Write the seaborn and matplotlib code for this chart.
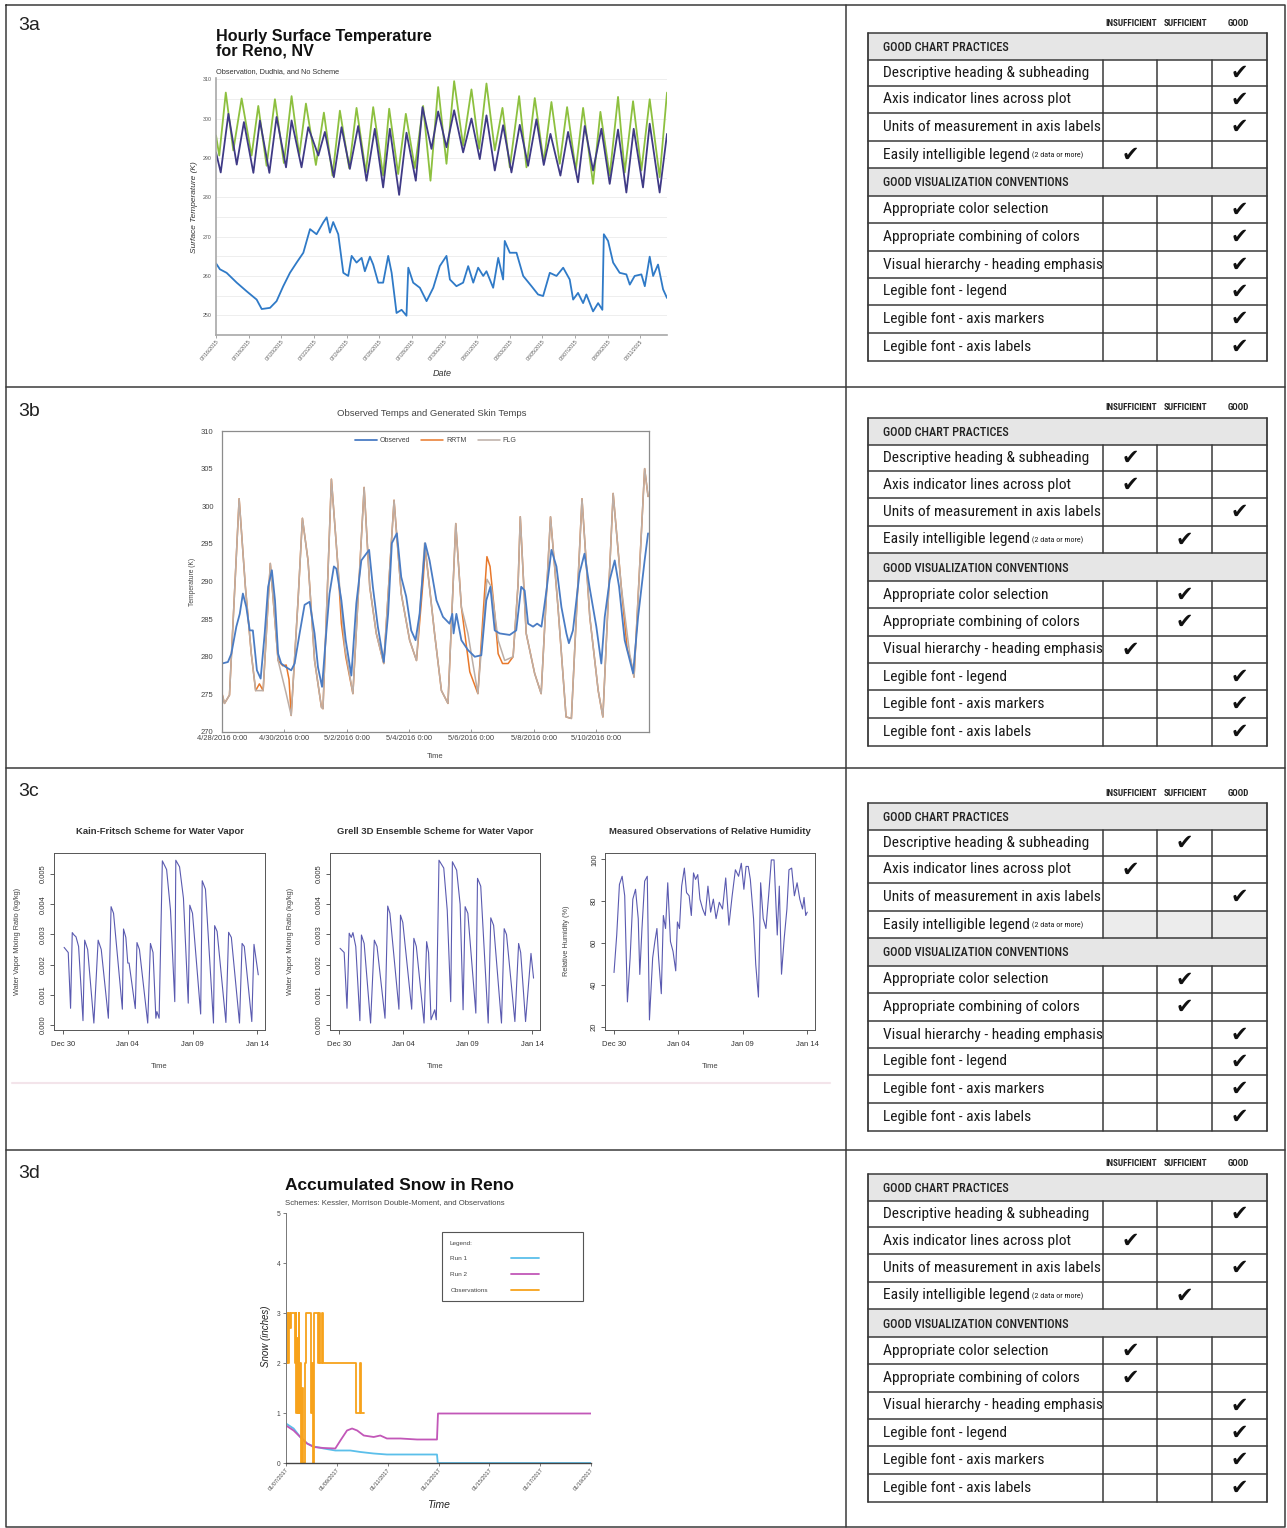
"""
Chart critique sheet: four weather charts (3a-3d), each next to its rubric table.
"""

import numpy as np
import pandas as pd
import matplotlib
matplotlib.use("Agg")
import matplotlib.pyplot as plt
from matplotlib import font_manager
from matplotlib.patches import Rectangle
from matplotlib.legend_handler import HandlerLine2D
import seaborn as sns

W, H = 1287, 1528

# ---------------------------------------------------------------- 3a data
# (days after 07/16/2015 00:00, surface temperature K)
a_green = [(0.0, 295.7), (0.2, 290.6), (0.6, 306.6), (1.06, 291.9), (1.57, 305.1),
           (2.18, 290.6), (2.59, 303.2), (3.1, 288.0), (3.61, 304.9), (4.16, 288.7),
           (4.63, 305.7), (5.1, 290.6), (5.51, 303.8), (6.12, 288.2), (6.61, 301.5),
           (7.14, 285.5), (7.59, 302.0), (8.16, 287.4), (8.61, 302.7), (9.18, 286.3),
           (9.63, 302.9), (10.24, 285.5), (10.61, 302.5), (11.16, 285.9), (11.63, 301.2),
           (12.18, 287.4), (12.69, 303.2), (13.14, 284.2), (13.61, 308.0), (14.12, 288.5),
           (14.59, 309.5), (15.14, 293.1), (15.65, 307.4), (16.12, 292.3), (16.57, 308.9),
           (17.08, 291.9), (17.55, 302.7), (18.0, 287.6), (18.57, 305.7), (19.02, 287.6),
           (19.53, 305.2), (20.08, 288.9), (20.55, 304.2), (21.06, 288.5), (21.51, 302.9),
           (22.04, 286.8), (22.49, 302.7), (23.1, 283.4), (23.55, 301.7), (24.12, 285.5),
           (24.63, 305.5), (25.04, 286.3), (25.55, 304.4), (26.06, 286.8), (26.57, 304.9),
           (27.18, 285.1), (27.63, 306.6)]
a_purple = [(0.0, 291.4), (0.29, 286.3), (0.76, 301.2), (1.27, 288.3), (1.71, 299.1),
            (2.29, 286.2), (2.69, 299.5), (3.27, 286.2), (3.71, 300.4), (4.29, 287.6),
            (4.63, 299.5), (5.24, 287.6), (5.65, 297.8), (6.27, 290.6), (6.67, 296.6),
            (7.22, 285.1), (7.69, 297.8), (8.2, 287.2), (8.71, 298.1), (9.22, 284.2),
            (9.73, 297.4), (10.24, 282.5), (10.65, 297.4), (11.22, 280.6), (11.67, 296.4),
            (12.24, 284.2), (12.65, 302.9), (13.2, 292.3), (13.61, 301.8), (14.12, 292.7),
            (14.59, 302.1), (15.14, 291.4), (15.65, 300.0), (16.16, 289.7), (16.57, 300.8),
            (17.08, 286.8), (17.59, 298.3), (18.1, 286.3), (18.61, 298.4), (19.12, 288.0),
            (19.63, 299.8), (20.08, 288.2), (20.49, 296.1), (21.1, 285.5), (21.57, 296.6),
            (22.18, 283.8), (22.59, 298.1), (23.1, 286.8), (23.61, 297.4), (24.12, 283.4),
            (24.63, 297.2), (25.14, 281.2), (25.59, 297.4), (26.16, 282.5), (26.57, 298.7),
            (27.18, 281.2), (27.63, 296.1)]
a_blue = [(0.0, 263.2), (0.24, 261.7), (0.65, 260.8), (1.27, 258.3), (1.88, 256.1),
          (2.49, 254.0), (2.8, 251.6), (3.31, 251.9), (3.71, 253.6), (4.12, 257.4),
          (4.53, 260.8), (4.94, 263.4), (5.35, 265.9), (5.76, 271.9), (6.16, 270.6),
          (6.57, 273.6), (6.78, 274.9), (6.98, 271.0), (7.18, 273.7), (7.49, 270.6),
          (7.8, 260.8), (8.1, 260.0), (8.31, 265.1), (8.61, 263.4), (8.92, 264.6),
          (9.12, 261.2), (9.43, 264.9), (9.63, 262.9), (9.94, 258.3), (10.24, 258.3),
          (10.55, 265.1), (10.76, 260.8), (11.06, 250.6), (11.37, 251.4), (11.67, 249.9),
          (11.78, 262.1), (12.08, 258.3), (12.49, 257.0), (12.9, 253.6), (13.31, 257.0),
          (13.71, 262.5), (14.12, 265.1), (14.33, 259.1), (14.73, 257.4), (15.14, 258.3),
          (15.45, 262.5), (15.76, 258.3), (16.06, 262.1), (16.37, 260.0), (16.57, 261.2),
          (16.98, 257.0), (17.29, 264.6), (17.59, 259.1), (17.69, 268.9), (18.0, 265.9),
          (18.41, 265.9), (18.82, 260.0), (19.33, 257.4), (19.73, 255.3), (20.04, 254.9),
          (20.45, 260.8), (20.86, 260.0), (21.27, 262.1), (21.67, 259.1), (21.88, 254.0),
          (22.18, 255.7), (22.49, 253.1), (22.69, 255.3), (23.1, 251.0), (23.41, 253.1),
          (23.67, 251.4), (23.76, 270.6), (24.02, 268.9), (24.33, 263.4), (24.73, 260.8),
          (25.14, 260.4), (25.35, 257.8), (25.65, 260.0), (26.06, 260.4), (26.27, 257.4),
          (26.57, 264.9), (26.78, 260.0), (27.08, 262.9), (27.39, 256.6), (27.63, 254.4)]
a_ticks = [0, 2, 4, 6, 8, 10, 12, 14, 16, 18, 20, 22, 24, 26]
a_tick_labels = ["07/16/2015", "07/18/2015", "07/20/2015", "07/22/2015", "07/24/2015",
                 "07/26/2015", "07/28/2015", "07/30/2015", "08/01/2015", "08/03/2015",
                 "08/05/2015", "08/07/2015", "08/09/2015", "08/11/2015"]

# ---------------------------------------------------------------- 3b data
# (days after 4/28/2016 0:00, temperature K)
b_observed = [(0.0, 279.1), (0.19, 279.3), (0.3, 280.4), (0.46, 284.0), (0.57, 285.7),
              (0.67, 288.4), (0.78, 286.6), (0.89, 283.5), (0.99, 283.5), (1.12, 278.2),
              (1.24, 277.1), (1.37, 283.1), (1.48, 289.3), (1.6, 291.5), (1.7, 287.5),
              (1.8, 280.4), (1.9, 279.1), (2.06, 278.6), (2.22, 278.2), (2.33, 279.1),
              (2.49, 283.1), (2.65, 286.9), (2.81, 287.3), (2.97, 283.1), (3.08, 278.6),
              (3.21, 276.0), (3.35, 283.5), (3.45, 288.4), (3.59, 292.0), (3.67, 291.7),
              (3.83, 287.5), (3.97, 282.2), (4.15, 277.5), (4.31, 287.1), (4.47, 292.8),
              (4.63, 293.7), (4.72, 294.2), (4.84, 289.3), (5.0, 284.0), (5.19, 279.3),
              (5.33, 285.7), (5.45, 295.1), (5.61, 296.4), (5.75, 290.6), (5.91, 288.0),
              (6.07, 283.5), (6.21, 282.2), (6.34, 285.7), (6.52, 295.1), (6.66, 292.8),
              (6.88, 287.5), (7.09, 285.3), (7.3, 284.4), (7.39, 285.7), (7.43, 283.1),
              (7.52, 285.7), (7.68, 282.2), (7.89, 280.9), (8.11, 280.0), (8.32, 280.2),
              (8.48, 287.5), (8.61, 289.3), (8.75, 283.5), (8.91, 283.1), (9.23, 282.9),
              (9.44, 283.5), (9.6, 289.3), (9.71, 288.8), (9.82, 284.4), (9.98, 284.0),
              (10.11, 284.4), (10.25, 284.0), (10.41, 288.8), (10.57, 294.2), (10.73, 292.0),
              (10.89, 286.6), (11.05, 283.1), (11.13, 281.8), (11.26, 283.5), (11.47, 291.1),
              (11.63, 293.7), (11.79, 289.3), (12.01, 284.0), (12.17, 279.1), (12.28, 285.3),
              (12.44, 290.2), (12.6, 292.8), (12.74, 289.3), (12.92, 282.2), (13.19, 277.8),
              (13.35, 285.3), (13.56, 292.8), (13.67, 296.4)]
b_rrtm = [(0.0, 275.1), (0.08, 273.8), (0.24, 274.9), (0.55, 301.0), (0.75, 289.3),
          (0.94, 280.4), (1.08, 275.5), (1.2, 276.4), (1.32, 275.5), (1.55, 292.4),
          (1.8, 279.5), (1.95, 278.8), (2.06, 278.9), (2.15, 277.0), (2.22, 272.2),
          (2.44, 287.5), (2.58, 298.4), (2.76, 292.8), (2.97, 279.5), (3.19, 273.3),
          (3.24, 273.1), (3.51, 303.6), (3.72, 292.0), (3.83, 284.4), (3.97, 280.0),
          (4.2, 275.1), (4.56, 302.5), (4.74, 289.3), (4.95, 283.1), (5.19, 279.1),
          (5.52, 300.8), (5.75, 288.4), (6.02, 282.2), (6.24, 279.5), (6.46, 290.5),
          (6.52, 294.5), (6.82, 283.1), (7.04, 275.5), (7.25, 273.8), (7.5, 297.7),
          (7.68, 286.6), (7.95, 278.0), (8.21, 275.1), (8.5, 293.3), (8.6, 292.0),
          (8.75, 285.7), (8.86, 280.4), (9.0, 279.1), (9.18, 279.1), (9.34, 280.0),
          (9.5, 289.7), (9.57, 298.6), (9.76, 283.1), (10.03, 277.8), (10.24, 275.1),
          (10.54, 298.6), (10.78, 286.6), (11.04, 272.0), (11.21, 271.8), (11.55, 301.0),
          (11.8, 285.3), (12.07, 275.5), (12.22, 272.0), (12.55, 301.7), (12.81, 289.3),
          (13.0, 281.0), (13.1, 279.8), (13.22, 277.3), (13.56, 305.0), (13.67, 301.3)]
b_flg = [(0.0, 275.1), (0.08, 273.8), (0.24, 274.9), (0.55, 301.0), (0.75, 289.3),
         (0.94, 280.4), (1.08, 275.5), (1.32, 275.5), (1.55, 292.4), (1.8, 279.5),
         (2.06, 275.1), (2.22, 272.2), (2.44, 287.5), (2.58, 298.4), (2.76, 292.8),
         (2.97, 279.5), (3.19, 273.3), (3.24, 273.1), (3.51, 303.6), (3.72, 292.0),
         (3.94, 281.3), (4.2, 275.1), (4.56, 302.5), (4.74, 289.3), (4.95, 283.1),
         (5.19, 279.1), (5.52, 300.8), (5.75, 288.4), (6.02, 282.2), (6.24, 279.5),
         (6.5, 295.1), (6.82, 283.1), (7.04, 275.5), (7.25, 273.8), (7.5, 297.7),
         (7.68, 286.6), (7.89, 283.1), (8.21, 275.1), (8.5, 290.3), (8.64, 289.3),
         (8.86, 282.2), (9.07, 279.5), (9.34, 280.0), (9.5, 289.7), (9.57, 298.6),
         (9.76, 283.1), (10.03, 277.8), (10.24, 275.1), (10.54, 298.6), (10.78, 286.6),
         (11.04, 272.0), (11.21, 271.8), (11.55, 301.0), (11.8, 285.3), (12.07, 275.5),
         (12.22, 272.0), (12.55, 301.7), (12.81, 289.3), (13.08, 280.4), (13.22, 277.3),
         (13.56, 305.0), (13.67, 301.3)]
b_ticks = [0, 2, 4, 6, 8, 10, 12]
b_tick_labels = ["4/28/2016 0:00", "4/30/2016 0:00", "5/2/2016 0:00", "5/4/2016 0:00",
                 "5/6/2016 0:00", "5/8/2016 0:00", "5/10/2016 0:00"]

# ---------------------------------------------------------------- 3c data
# (days after Dec 30, value)
c_kain_fritsch = [(0.08, 0.00257), (0.4, 0.0024), (0.58, 0.00055), (0.71, 0.00306),
                  (0.85, 0.00298), (1.0, 0.00292), (1.2, 0.0026), (1.54, 0.00014),
                  (1.67, 0.00281), (1.9, 0.0025), (2.38, 0.00006), (2.71, 0.00281),
                  (2.95, 0.0025), (3.5, 0.00022), (3.71, 0.00392), (3.9, 0.0037),
                  (4.58, 0.00052), (4.67, 0.00318), (4.85, 0.0029), (5.0, 0.00205),
                  (5.1, 0.00205), (5.58, 0.00054), (5.71, 0.00273), (5.9, 0.0025),
                  (6.54, 0.00006), (6.75, 0.0027), (6.95, 0.0024), (7.17, 0.00022),
                  (7.25, 0.00044), (7.42, 0.00022), (7.67, 0.00544), (8.0, 0.00515),
                  (8.3, 0.0038), (8.63, 0.00077), (8.71, 0.00546), (9.0, 0.00524),
                  (9.3, 0.0042), (9.67, 0.00072), (9.79, 0.00397), (10.0, 0.0037),
                  (10.63, 0.00036), (10.75, 0.00478), (11.0, 0.0045), (11.62, 0.00006),
                  (11.71, 0.00329), (11.9, 0.0031), (12.58, 0.00008), (12.79, 0.00307),
                  (13.0, 0.0029), (13.63, 0.00006), (13.83, 0.0027), (14.0, 0.0026),
                  (14.58, 0.00011), (14.75, 0.00267), (15.08, 0.00166)]
c_grell = [(0.08, 0.00254), (0.4, 0.0024), (0.62, 0.00055), (0.79, 0.00304),
           (0.95, 0.0029), (1.08, 0.00306), (1.3, 0.0026), (1.62, 0.00014),
           (1.74, 0.00298), (1.95, 0.0027), (2.45, 0.00006), (2.74, 0.00281),
           (2.95, 0.0026), (3.57, 0.00022), (3.78, 0.00394), (3.95, 0.0037),
           (4.65, 0.00052), (4.77, 0.00364), (4.95, 0.0034), (5.64, 0.00052),
           (5.81, 0.00287), (6.0, 0.0026), (6.6, 0.00006), (6.8, 0.00276),
           (6.95, 0.0024), (7.14, 0.00017), (7.43, 0.0005), (7.55, 0.00017),
           (7.76, 0.00546), (8.13, 0.0052), (8.4, 0.0038), (8.67, 0.00077),
           (8.8, 0.00541), (9.13, 0.00513), (9.4, 0.004), (9.63, 0.0005),
           (9.79, 0.00392), (10.0, 0.0037), (10.62, 0.00039), (10.75, 0.00486),
           (11.0, 0.0046), (11.58, 0.00006), (11.78, 0.00355), (12.0, 0.0033),
           (12.61, 0.00006), (12.82, 0.00319), (13.0, 0.003), (13.65, 0.00011),
           (13.94, 0.0027), (14.1, 0.0024), (14.48, 0.00011), (14.9, 0.00237),
           (15.1, 0.00155)]
c_humidity = [(0.0, 46.0), (0.21, 63.9), (0.42, 88.0), (0.63, 91.9), (0.83, 82.6),
              (1.04, 32.0), (1.25, 53.0), (1.46, 81.0), (1.67, 85.7), (1.88, 71.7),
              (2.0, 45.1), (2.17, 67.0), (2.38, 89.6), (2.58, 91.9), (2.75, 23.4),
              (3.0, 53.0), (3.17, 60.8), (3.33, 67.0), (3.46, 53.0), (3.67, 35.9),
              (3.83, 73.2), (4.0, 67.0), (4.17, 88.8), (4.38, 60.8), (4.58, 56.1),
              (4.79, 46.8), (4.92, 70.1), (5.08, 67.0), (5.25, 87.2), (5.46, 95.8),
              (5.63, 84.1), (5.83, 82.6), (6.0, 73.2), (6.17, 93.5), (6.33, 90.4),
              (6.5, 92.7), (6.67, 81.0), (6.88, 76.3), (7.08, 73.2), (7.29, 87.2),
              (7.5, 74.8), (7.71, 81.0), (7.92, 71.7), (8.17, 79.5), (8.42, 76.3),
              (8.67, 91.1), (8.92, 68.6), (9.17, 82.6), (9.42, 95.0), (9.67, 91.9),
              (9.88, 98.1), (10.08, 85.7), (10.25, 96.6), (10.42, 96.6), (10.58, 90.4),
              (10.83, 71.7), (11.0, 49.9), (11.21, 34.3), (11.38, 88.8), (11.58, 71.7),
              (11.79, 67.0), (12.0, 82.6), (12.21, 99.7), (12.42, 99.7), (12.67, 63.9),
              (12.83, 87.2), (13.0, 45.2), (13.21, 62.3), (13.42, 76.3), (13.58, 95.0),
              (13.79, 95.8), (14.0, 82.6), (14.21, 88.8), (14.42, 81.0), (14.63, 76.3),
              (14.75, 81.8), (14.88, 73.2), (15.0, 74.8)]
c_ticks = [0, 5, 10, 15]
c_tick_labels = ["Dec 30", "Jan 04", "Jan 09", "Jan 14"]
c_vapor_ticks = [0.0, 0.001, 0.002, 0.003, 0.004, 0.005]
c_vapor_labels = ["0.000", "0.001", "0.002", "0.003", "0.004", "0.005"]
c_rh_ticks = [20, 40, 60, 80, 100]

# ---------------------------------------------------------------- 3d data
# (days after 01/07/2017, accumulated snow in inches)
d_run1 = [(0.0, 0.79), (0.3, 0.69), (0.56, 0.52), (0.83, 0.39), (1.09, 0.33),
          (1.48, 0.29), (1.94, 0.25), (2.53, 0.25), (2.93, 0.22), (3.45, 0.19),
          (3.97, 0.17), (4.76, 0.17), (5.94, 0.17), (5.97, 0.0), (12.0, 0.0)]
d_run2 = [(0.0, 0.75), (0.3, 0.65), (0.56, 0.52), (0.83, 0.39), (1.09, 0.32),
          (1.48, 0.30), (1.94, 0.29), (2.14, 0.45), (2.4, 0.65), (2.6, 0.69),
          (2.8, 0.65), (3.06, 0.55), (3.45, 0.52), (3.71, 0.55), (3.97, 0.49),
          (4.5, 0.49), (5.16, 0.47), (5.94, 0.47), (5.98, 0.99), (12.0, 0.99)]
d_obs = [(0.0, 2), (0.03, 3), (0.07, 2), (0.10, 3), (0.14, 2.7), (0.18, 3), (0.30, 3),
         (0.34, 2), (0.38, 3), (0.41, 1), (0.43, 2.5), (0.46, 1), (0.50, 3), (0.52, 1),
         (0.56, 2), (0.59, 0), (0.62, 1.5), (0.66, 0), (0.70, 0), (0.73, 2), (0.77, 3),
         (0.96, 3), (1.0, 1), (1.04, 2), (1.06, 0), (1.09, 3), (1.22, 3), (1.25, 2),
         (1.30, 3), (1.35, 2), (1.40, 3), (1.44, 2), (2.73, 2), (2.77, 1), (2.89, 1),
         (2.92, 2), (2.96, 1), (3.06, 1)]
d_ticks = [0, 2, 4, 6, 8, 10, 12]
d_tick_labels = ["01/07/2017", "01/09/2017", "01/11/2017", "01/13/2017",
                 "01/15/2017", "01/17/2017", "01/19/2017"]

# ---------------------------------------------------------------- rubric
criteria_practices = ["Descriptive heading & subheading", "Axis indicator lines across plot",
                      "Units of measurement in axis labels", "Easily intelligible legend"]
criteria_conventions = ["Appropriate color selection", "Appropriate combining of colors",
                        "Visual hierarchy - heading emphasis", "Legible font - legend",
                        "Legible font - axis markers", "Legible font - axis labels"]
rating_columns = ["INSUFFICIENT", "SUFFICIENT", "GOOD"]
# I = insufficient, S = sufficient, G = good, - = not applicable (shaded)
ratings_3a = ["G", "G", "G", "I", "G", "G", "G", "G", "G", "G"]
ratings_3b = ["I", "I", "G", "S", "S", "S", "I", "G", "G", "G"]
ratings_3c = ["S", "I", "G", "-", "S", "S", "G", "G", "G", "G"]
ratings_3d = ["G", "I", "G", "S", "I", "I", "G", "G", "G", "G"]
panel_names = ["3a", "3b", "3c", "3d"]

# ---------------------------------------------------------------- style
sns.set_theme(style="white")
fonts = font_manager.fontManager.ttflist
names = {f.name for f in fonts}
SANS = "Liberation Sans" if "Liberation Sans" in names else "DejaVu Sans"
TABLE_FONT, TABLE_STRETCH = "Roboto", "normal"
for cand in ["Liberation Sans Narrow", "Roboto Condensed", "Noto Sans Condensed",
             "Open Sans Condensed"]:
    if cand in names:
        TABLE_FONT = cand
        break
else:
    if any(f.name == "DejaVu Sans" and str(f.stretch) in ("condensed", "semi-condensed")
           for f in fonts):
        TABLE_FONT, TABLE_STRETCH = "DejaVu Sans", "condensed"
plt.rcParams["font.family"] = [SANS, "DejaVu Sans"]

fig = plt.figure(figsize=(W / 100, H / 100), dpi=100)
bg = fig.add_axes([0, 0, 1, 1])
bg.set_xlim(0, W)
bg.set_ylim(H, 0)
bg.axis("off")
renderer = fig.canvas.get_renderer()


def px_axes(left, top, right, bottom):
    return fig.add_axes([left / W, 1 - bottom / H, (right - left) / W, (bottom - top) / H])


def text_width(s, **props):
    t = bg.text(0, 0, s, **props)
    w = t.get_window_extent(renderer).width
    t.remove()
    return w


def fit_size(s, target_px, **props):
    return 10 * target_px / text_width(s, fontsize=10, **props)


def draw_line(ax, pairs, color, lw, **kw):
    df = pd.DataFrame(pairs, columns=["day", "value"])
    sns.lineplot(data=df, x="day", y="value", ax=ax, color=color, lw=lw,
                 estimator=None, sort=False, **kw)
    return ax.lines[-1]


class ShortLineHandler(HandlerLine2D):
    """Legend line drawn only over the left part of a long handle box."""

    def __init__(self, frac, **kw):
        super().__init__(**kw)
        self.frac = frac

    def get_xdata(self, legend, xdescent, ydescent, width, height, fontsize):
        xdata = np.array([-xdescent, -xdescent + width * self.frac])
        return xdata, xdata


# ---------------------------------------------------------------- frame
LINE = "#3a3a3a"
bg.plot([6, 1285, 1285, 6, 6], [5, 5, 1527, 1527, 5], color=LINE, lw=1.1)
for y in (387, 768, 1150):
    bg.plot([6, 1285], [y, y], color=LINE, lw=1.1)
bg.plot([846, 846], [5, 1527], color=LINE, lw=1.1)
for name, y in zip(panel_names, (26, 411, 792, 1174)):
    bg.text(18, y, name, fontsize=14, va="center", ha="left", color="#222")

# ---------------------------------------------------------------- rubric tables
COL_X = [868, 1103, 1157, 1212, 1267]
ROW_Y = [33, 60, 86, 113, 141, 168, 196, 223, 251, 278, 305, 333, 361]
RATING_COL = {"I": 1, "S": 2, "G": 3}
tprops = dict(family=TABLE_FONT, fontstretch=TABLE_STRETCH)
row_size = fit_size("Units of measurement in axis labels", 216, **tprops)
head_size = fit_size("GOOD VISUALIZATION CONVENTIONS", 186, fontweight="medium", **tprops)
col_size = fit_size("INSUFFICIENT", 52, fontweight="bold", **tprops)


def draw_rubric(oy, ratings):
    ys = [y + oy for y in ROW_Y]
    for name, cx in zip(rating_columns, (1131, 1185, 1238)):
        bg.text(cx, 23 + oy, name, fontsize=col_size, fontweight="bold", ha="center",
                va="center", color="#222", **tprops)
    for r in (0, 5):
        bg.add_patch(Rectangle((COL_X[0], ys[r]), COL_X[-1] - COL_X[0], ys[r + 1] - ys[r],
                               fc="#e6e6e6", ec="none"))
    bg.text(883, (ys[0] + ys[1]) / 2 + 1, "GOOD CHART PRACTICES", fontsize=head_size,
            fontweight="medium", va="center", color="#222", **tprops)
    bg.text(883, (ys[5] + ys[6]) / 2 + 1, "GOOD VISUALIZATION CONVENTIONS", fontsize=head_size,
            fontweight="medium", va="center", color="#222", **tprops)
    rows = [1, 2, 3, 4, 6, 7, 8, 9, 10, 11]
    labels = criteria_practices + criteria_conventions
    for r, label, rating in zip(rows, labels, ratings):
        cy = (ys[r] + ys[r + 1]) / 2
        t = bg.text(883, cy, label, fontsize=row_size, va="center", color="#1a1a1a", **tprops)
        if label == "Easily intelligible legend":
            bg.annotate(" (2 data or more)", xy=(1, 0.2), xycoords=t, va="bottom",
                        fontsize=row_size * 0.52, color="#1a1a1a", **tprops)
        if rating == "-":
            bg.add_patch(Rectangle((COL_X[1], ys[r]), COL_X[-1] - COL_X[1], ys[r + 1] - ys[r],
                                   fc="#ececec", ec="none"))
        else:
            cx = (COL_X[RATING_COL[rating]] + COL_X[RATING_COL[rating] + 1]) / 2
            bg.text(cx, cy, "\u2714", family="DejaVu Sans", fontsize=15,
                    ha="center", va="center", color="#111")
        for x in COL_X[1:-1]:
            bg.plot([x, x], [ys[r], ys[r + 1]], color=LINE, lw=1.1)
    for y in ys:
        bg.plot([COL_X[0], COL_X[-1]], [y, y], color=LINE, lw=1.1)
    for x in (COL_X[0], COL_X[-1]):
        bg.plot([x, x], [ys[0], ys[-1]], color=LINE, lw=1.3)


for oy, ratings in zip((0, 385, 770, 1141), (ratings_3a, ratings_3b, ratings_3c, ratings_3d)):
    draw_rubric(oy, ratings)

# ---------------------------------------------------------------- 3a
ax = px_axes(216, 78, 667, 335)
draw_line(ax, a_green, "#8dc03f", 1.3)
draw_line(ax, a_purple, "#3f3a86", 1.3)
draw_line(ax, a_blue, "#2f7ac7", 1.3)
ax.set(xlabel="", ylabel="", xlim=(0, 27.63), ylim=(245, 310.3))
ax.set_yticks([250, 260, 270, 280, 290, 300, 310])
ax.set_yticks([255, 265, 275, 285, 295, 305], minor=True)
ax.grid(axis="y", which="both", color="#eeeeee", lw=0.7)
ax.set_xticks(a_ticks)
ax.set_xticklabels(a_tick_labels, rotation=50, ha="right", rotation_mode="anchor")
ax.tick_params(axis="y", which="both", length=0, labelsize=3.8, colors="#555", pad=3)
ax.tick_params(axis="x", length=2, width=0.6, color="#999", labelsize=3.7,
               labelcolor="#555", pad=1, bottom=True)
for side in ("top", "right"):
    ax.spines[side].set_visible(False)
for side in ("left", "bottom"):
    ax.spines[side].set_color("#a8a8a8")
    ax.spines[side].set_linewidth(1.2)
bg.text(216, 29, "Hourly Surface Temperature\nfor Reno, NV", fontsize=11.6,
        fontweight="bold", va="top", ha="left", color="#111", linespacing=0.95)
bg.text(216, 72, "Observation, Dudhia, and No Scheme", fontsize=5.3, va="center",
        ha="left", color="#333")
bg.text(195, 207, "Surface Temperature (K)", fontsize=6, style="italic", rotation=90,
        va="center", ha="center", color="#333")
bg.text(442, 373, "Date", fontsize=6.5, style="italic", va="center", ha="center", color="#333")

# ---------------------------------------------------------------- 3b
ax = px_axes(222, 431, 649, 732)
h_rrtm = draw_line(ax, b_rrtm, "#e8782a", 1.1)
h_flg = draw_line(ax, b_flg, "#bcaea6", 1.1)
h_obs = draw_line(ax, b_observed, "#4a7cc4", 1.3)
ax.set(xlabel="", ylabel="", xlim=(0, 13.7), ylim=(270, 310))
ax.set_yticks([270, 275, 280, 285, 290, 295, 300, 305, 310])
ax.set_xticks(b_ticks)
ax.set_xticklabels(b_tick_labels)
ax.tick_params(axis="y", length=0, labelsize=5.5, labelcolor="#444", pad=6)
ax.tick_params(axis="x", direction="in", length=2.5, width=0.6, color="#888",
               labelsize=5.4, labelcolor="#444", pad=2, bottom=True)
for side in ax.spines:
    ax.spines[side].set_color("#8c8c8c")
    ax.spines[side].set_linewidth(0.9)
ax.legend([h_obs, h_rrtm, h_flg], ["Observed", "RRTM", "FLG"], loc="upper center",
          bbox_to_anchor=(0.5, 1.0), ncol=3, frameon=False, fontsize=5,
          handlelength=3.2, handletextpad=0.4, columnspacing=1.6, labelcolor="#444")
bg.text(432, 414, "Observed Temps and Generated Skin Temps", fontsize=6.8,
        ha="center", va="center", color="#444")
bg.text(192, 582, "Temperature (K)", fontsize=4.8, rotation=90, ha="center", va="center",
        color="#444")
bg.text(435, 756, "Time", fontsize=5.5, ha="center", va="center", color="#444")

# ---------------------------------------------------------------- 3c
c_panels = [
    (54, 265, c_kain_fritsch, "Kain-Fritsch Scheme for Water Vapor",
     "Water Vapor Mixing Ratio (kg/kg)", 18, (-0.00017, 0.0057)),
    (330, 540, c_grell, "Grell 3D Ensemble Scheme for Water Vapor",
     "Water Vapor Mixing Ratio (kg/kg)", 291, (-0.00017, 0.0057)),
    (605, 815, c_humidity, "Measured Observations of Relative Humidity",
     "Relative Humidity (%)", 566, (18.6, 103)),
]
for left, right, pairs, title, ylab, ylab_x, ylim in c_panels:
    ax = px_axes(left, 853, right, 1030)
    draw_line(ax, pairs, "#5a5ab0", 0.8)
    ax.set(xlabel="", ylabel="", xlim=(-0.7, 15.6), ylim=ylim)
    ax.set_xticks(c_ticks)
    ax.set_xticklabels(c_tick_labels)
    if ylab.startswith("Water"):
        ax.set_yticks(c_vapor_ticks)
        ax.set_yticklabels(c_vapor_labels, rotation=90, va="center")
    else:
        ax.set_yticks(c_rh_ticks)
        ax.set_yticklabels([str(v) for v in c_rh_ticks], rotation=90, va="center")
    ax.tick_params(direction="out", length=3, width=0.6, color="#444", labelsize=5.5,
                   labelcolor="#333", pad=2, bottom=True, left=True)
    ax.tick_params(axis="x", pad=5)
    for side in ax.spines:
        ax.spines[side].set_color("#555")
        ax.spines[side].set_linewidth(0.7)
    cx = (left + right) / 2
    bg.text(cx, 832, title, fontsize=6.8, fontweight="bold", ha="center", va="center",
            color="#333")
    bg.text(ylab_x, 941, ylab, fontsize=5.3, rotation=90, ha="center", va="center",
            color="#444")
    bg.text(cx, 1067, "Time", fontsize=5.5, ha="center", va="center", color="#444")
bg.plot([12, 830], [1083, 1083], color="#f3e4ea", lw=1.5)

# ---------------------------------------------------------------- 3d
ax = px_axes(286, 1213, 591, 1463)
h_run1 = draw_line(ax, d_run1, "#5bbfea", 1.3)
h_run2 = draw_line(ax, d_run2, "#c257b8", 1.3)
h_obs = draw_line(ax, d_obs, "#f7a21b", 1.3, drawstyle="steps-post")
ax.set(xlabel="", ylabel="", xlim=(0, 12), ylim=(0, 5))
ax.set_yticks([0, 1, 2, 3, 4, 5])
ax.set_xticks(d_ticks)
ax.set_xticklabels(d_tick_labels, rotation=50, ha="right", rotation_mode="anchor")
ax.tick_params(axis="y", length=2, width=0.6, color="#666", labelsize=4.8,
               labelcolor="#444", pad=2, left=True)
ax.tick_params(axis="x", length=2, width=0.6, color="#666", labelsize=4.0,
               labelcolor="#444", pad=1, bottom=True)
for side in ("top", "right"):
    ax.spines[side].set_visible(False)
ax.spines["left"].set_color("#777")
ax.spines["left"].set_linewidth(0.7)
ax.spines["bottom"].set_color("#444")
ax.spines["bottom"].set_linewidth(1.0)

# pad legend labels so they all start at the same x while the lines stay aligned
leg_labels = ["Run 1", "Run 2", "Observations"]
leg_size = 4.6
widest = max(text_width(s, fontsize=leg_size) for s in leg_labels)
padded = []
for s in leg_labels:
    while text_width(s, fontsize=leg_size) < widest - 0.5:
        s += " "
    padded.append(s)
short = ShortLineHandler(0.43)
leg = ax.legend([h_run1, h_run2, h_obs], padded, loc="upper right",
                bbox_to_anchor=(0.985, 0.935), markerfirst=False, title="Legend:",
                alignment="left", fontsize=leg_size, title_fontsize=leg_size,
                handlelength=10, handletextpad=3.6, labelspacing=1.6, borderpad=1.3,
                fancybox=False, edgecolor="#555", framealpha=1, labelcolor="#444",
                handler_map={h_run1: short, h_run2: short, h_obs: short})
leg.get_frame().set_linewidth(0.8)
leg.get_title().set_color("#444")
bg.text(285, 1185, "Accumulated Snow in Reno", fontsize=12.5, fontweight="bold",
        ha="left", va="center", color="#111")
bg.text(285, 1203, "Schemes: Kessler, Morrison Double-Moment, and Observations",
        fontsize=5.6, ha="left", va="center", color="#444")
bg.text(266, 1336, "Snow (inches)", fontsize=7, style="italic", rotation=90,
        ha="center", va="center", color="#222")
bg.text(438, 1505, "Time", fontsize=7.5, style="italic", ha="center", va="center",
        color="#222")

fig.savefig("out.png", dpi=100)
